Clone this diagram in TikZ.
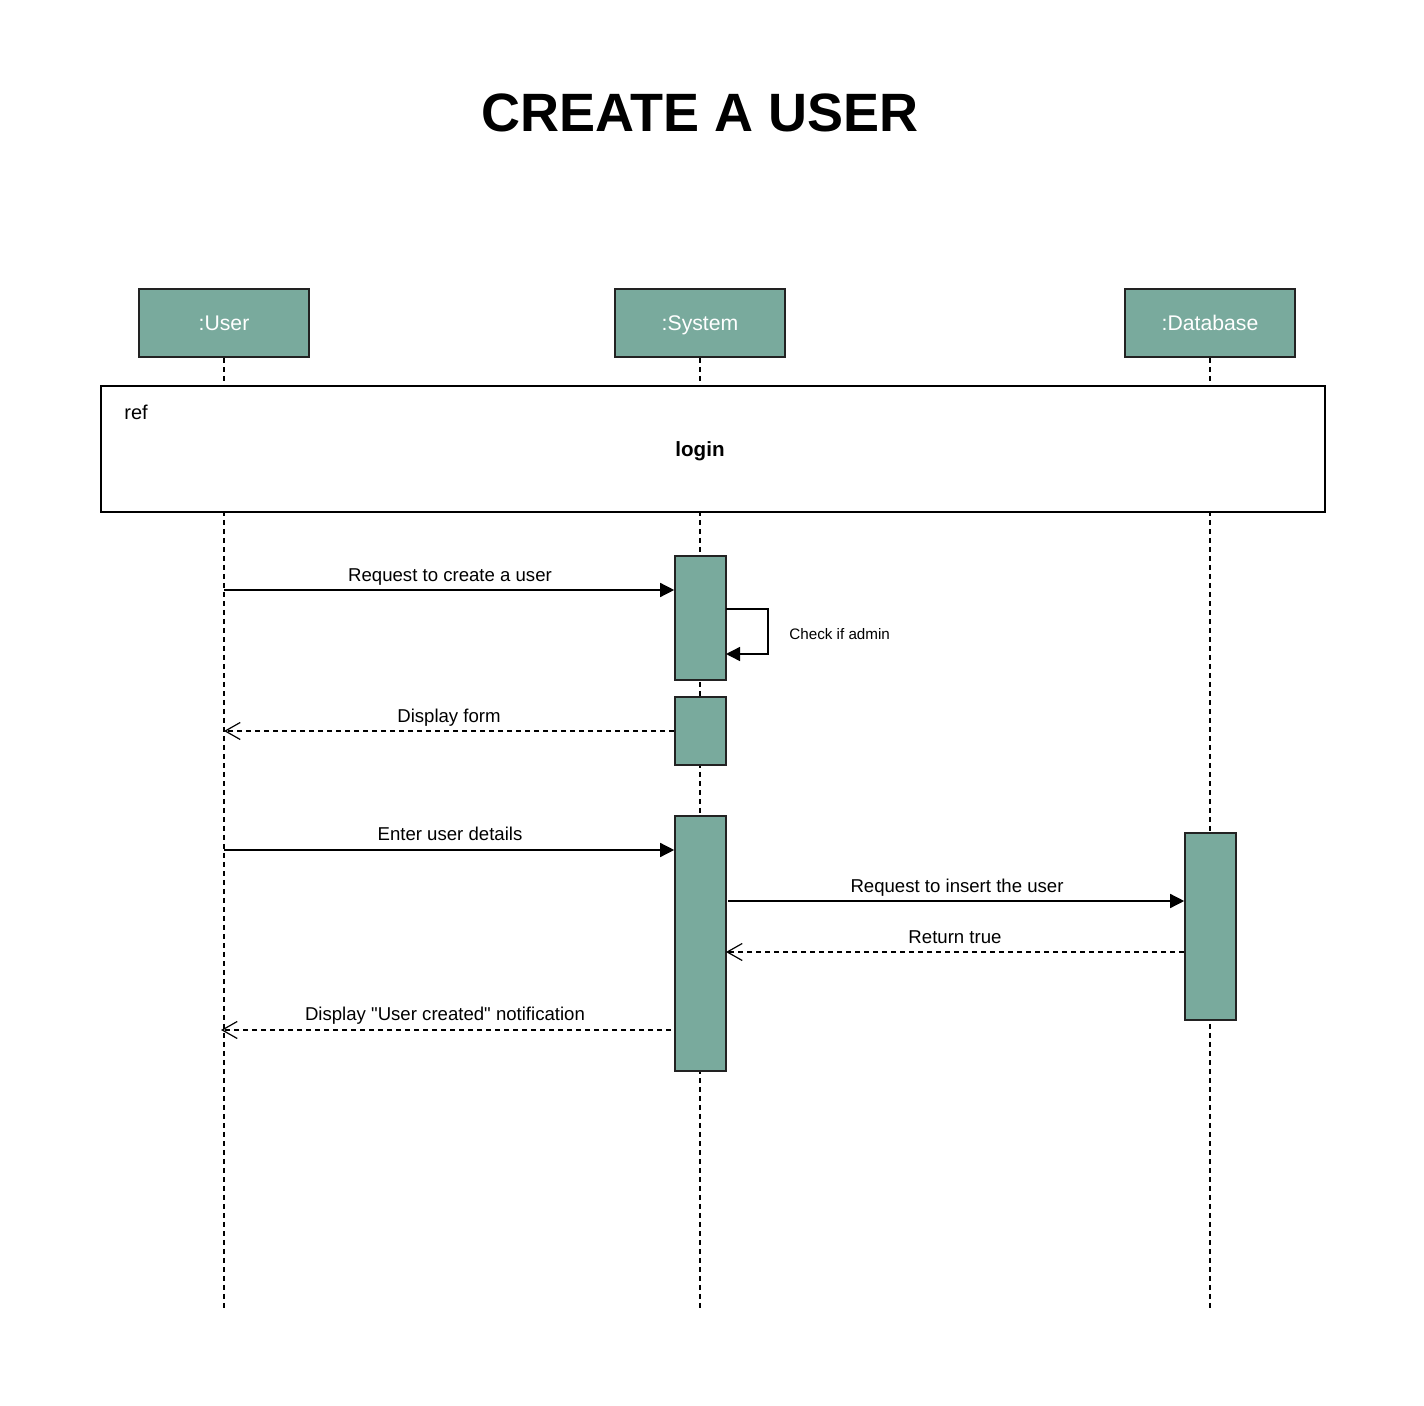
\documentclass[tikz,border=0pt]{standalone}
\usepackage{fontspec}
\setmainfont{Liberation Sans}[Ligatures=TeXOff]
\usetikzlibrary{arrows.meta}
\definecolor{actfill}{HTML}{79AA9D}
\definecolor{edge}{HTML}{222222}
\begin{document}
\begin{tikzpicture}[x=0.5pt,y=-0.5pt,
  head/.style={draw=edge,line width=0.8pt,fill=actfill,minimum width=85pt,minimum height=34pt,inner sep=0pt,text=white,font=\fontsize{10.6}{12}\selectfont,text height=7.6pt,text depth=0pt},
  actbox/.style={draw=edge,line width=0.8pt,fill=actfill,minimum width=25.5pt,inner sep=0pt},
  life/.style={draw=black,line width=0.6pt,dash pattern=on 2.5pt off 2pt},
  call/.style={draw=black,line width=0.7pt,-{Triangle[length=7pt,width=7pt]}},
  reply/.style={draw=black,line width=0.6pt,dash pattern=on 2.5pt off 2pt,-{Straight Barb[length=7.5pt,width=8.5pt,line width=0.6pt]}},
  lbl/.style={font=\fontsize{9.3}{11}\selectfont,inner sep=0pt,text height=6.7pt,text depth=0pt}]
\useasboundingbox[fill=white] (0,0) rectangle (1424,1406);
% title
\node[text height=19.4pt,text depth=0pt,inner sep=0pt] (title) at (700,112) {\fontsize{27}{32}\selectfont\bfseries CREATE A USER};
% heads
\node[head] (user) at (224,323) {:User};
\node[head] (sys) at (700,323) {:System};
\node[head] (db) at (1210,323) {:Database};
% lifeline ends
\coordinate (uend) at (224,1310);
\coordinate (send) at (700,1310);
\coordinate (dend) at (1210,1310);
\draw[life] (user.south) -- (uend);
\draw[life] (sys.south) -- (send);
\draw[life] (db.south) -- (dend);
% ref frame
\node[draw=black,line width=0.8pt,fill=white,minimum width=612pt,minimum height=63pt,inner sep=0pt] (ref) at (713,449) {};
\node[font=\fontsize{10}{12}\selectfont,anchor=west,inner sep=0pt,text height=7.2pt,text depth=0pt] (reflbl) at (124,412) {ref};
\node[font=\fontsize{10.3}{12}\selectfont\bfseries,inner sep=0pt,text height=7.4pt,text depth=0pt] (login) at (700,449) {login};
% activations
\node[actbox,minimum height=62pt] (a1) at (700.5,618) {};
\node[actbox,minimum height=34pt] (a2) at (700.5,731) {};
\node[actbox,minimum height=127.5pt] (a3) at (700.5,943.5) {};
\node[actbox,minimum height=93.5pt] (a4) at (1210.5,926.5) {};
% message 1
\coordinate (u1) at (224,590);
\draw[call] (u1) -- (u1 -| a1.west);
\node[lbl] (l1) at (450,575) {Request to create a user};
% self message
\coordinate (s1) at (726,609);
\coordinate (s2) at (726,654);
\draw[line width=0.7pt,-{Triangle[length=7pt,width=7pt]}] (s1) -- (768,609) |- (s2);
\node[font=\fontsize{7.6}{9}\selectfont,anchor=west,inner sep=0pt,text height=5.4pt,text depth=0pt] (l2) at (789,634) {Check if admin};
% display form
\coordinate (u2) at (224,731);
\draw[reply] (u2 -| a2.west) -- (u2);
\node[lbl] (l3) at (449,716) {Display form};
% enter user details
\coordinate (u3) at (224,850);
\draw[call] (u3) -- (u3 -| a3.west);
\node[lbl] (l4) at (450,834) {Enter user details};
% insert
\coordinate (s3) at (728,901);
\draw[call] (s3) -- (s3 -| a4.west);
\node[lbl] (l5) at (957,886) {Request to insert the user};
% return true
\coordinate (s4) at (726,952);
\draw[reply] (s4 -| a4.west) -- (s4);
\node[lbl] (l6) at (955,937) {Return true};
% user created
\coordinate (u4) at (221,1030);
\coordinate (s5) at (671,1030);
\draw[reply] (s5) -- (u4);
\node[lbl] (l7) at (445,1014) {Display "User created" notification};
\end{tikzpicture}
\end{document}
